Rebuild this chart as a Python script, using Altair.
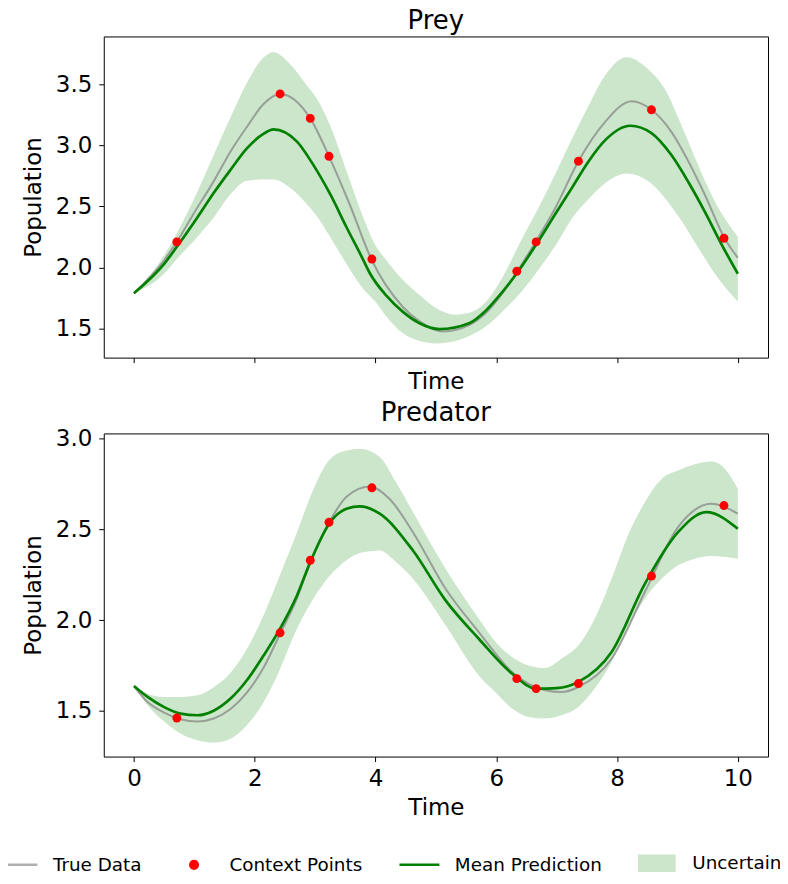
import altair as alt
import pandas as pd

FONT = "DejaVu Sans"

# ---------------- Prey ----------------
prey_true_t = [0, 0.5, 0.71, 1.0, 1.32, 1.6, 1.87, 2.15, 2.42, 2.92, 3.23, 3.57, 3.93, 4.45, 4.73, 5.11, 5.55, 5.83, 6.1, 6.35, 6.65, 6.98, 7.36, 7.80, 8.24, 8.57, 8.90, 9.18, 9.45, 9.78, 10.0]
prey_true_y = [1.79, 2.06, 2.21, 2.45, 2.705, 2.95, 3.15, 3.34, 3.42, 3.22, 2.91, 2.52, 2.07, 1.68, 1.56, 1.478, 1.53, 1.63, 1.79, 1.97, 2.21, 2.49, 2.87, 3.19, 3.36, 3.29, 3.11, 2.87, 2.60, 2.24, 2.08]

prey_mean_t = [0, 0.5, 0.71, 1.05, 1.32, 1.6, 1.87, 2.15, 2.31, 2.70, 2.97, 3.25, 3.52, 3.79, 3.9, 4.18, 4.45, 4.73, 5.06, 5.55, 5.83, 6.1, 6.35, 6.65, 6.98, 7.25, 7.53, 7.80, 8.22, 8.57, 8.90, 9.18, 9.45, 9.73, 10.0]
prey_mean_y = [1.79, 2.03, 2.17, 2.41, 2.61, 2.80, 2.975, 3.095, 3.13, 3.03, 2.84, 2.60, 2.33, 2.07, 1.96, 1.77, 1.64, 1.545, 1.497, 1.545, 1.65, 1.80, 1.96, 2.18, 2.44, 2.65, 2.87, 3.04, 3.16, 3.10, 2.92, 2.70, 2.46, 2.19, 1.95]

prey_band_t = [0, 0.5, 0.71, 1.05, 1.32, 1.6, 1.87, 2.15, 2.31, 2.59, 2.86, 3.03, 3.25, 3.52, 3.79, 4.0, 4.18, 4.45, 4.73, 5.0, 5.33, 5.55, 5.83, 6.1, 6.43, 6.71, 6.98, 7.25, 7.53, 7.80, 8.16, 8.52, 8.79, 9.07, 9.34, 9.62, 10.0]
prey_band_up = [1.79, 2.10, 2.28, 2.62, 2.92, 3.23, 3.51, 3.72, 3.76, 3.66, 3.49, 3.38, 3.16, 2.79, 2.42, 2.18, 2.06, 1.90, 1.775, 1.67, 1.615, 1.63, 1.72, 1.92, 2.24, 2.50, 2.77, 3.05, 3.325, 3.57, 3.72, 3.62, 3.46, 3.16, 2.84, 2.54, 2.25]
prey_band_lo = [1.79, 1.95, 2.07, 2.25, 2.41, 2.60, 2.71, 2.72, 2.72, 2.65, 2.52, 2.42, 2.25, 2.03, 1.83, 1.72, 1.60, 1.465, 1.40, 1.38, 1.40, 1.44, 1.52, 1.64, 1.81, 1.99, 2.18, 2.40, 2.56, 2.69, 2.77, 2.705, 2.57, 2.38, 2.165, 1.95, 1.72]

# ---------------- Predator ----------------
pred_true_t = [0, 0.225, 0.5, 0.77, 1.05, 1.32, 1.6, 1.87, 2.15, 2.42, 2.70, 2.92, 3.25, 3.52, 3.9, 4.23, 4.62, 5.16, 5.71, 6.26, 6.81, 7.08, 7.36, 7.91, 8.46, 9.01, 9.56, 10.0]
pred_true_y = [1.636, 1.548, 1.49, 1.453, 1.44, 1.457, 1.51, 1.60, 1.74, 1.925, 2.12, 2.32, 2.55, 2.68, 2.737, 2.67, 2.485, 2.173, 1.934, 1.714, 1.613, 1.603, 1.631, 1.787, 2.155, 2.513, 2.642, 2.587]

pred_mean_t = [0, 0.225, 0.5, 0.77, 1.05, 1.32, 1.6, 1.87, 2.15, 2.42, 2.70, 2.92, 3.25, 3.52, 3.74, 4.07, 4.62, 5.16, 5.71, 6.26, 6.66, 7.0, 7.36, 7.91, 8.46, 9.01, 9.48, 10.0]
pred_mean_y = [1.636, 1.576, 1.52, 1.484, 1.475, 1.50, 1.567, 1.668, 1.806, 1.953, 2.136, 2.32, 2.54, 2.614, 2.627, 2.587, 2.384, 2.109, 1.897, 1.705, 1.622, 1.625, 1.659, 1.824, 2.20, 2.485, 2.596, 2.504]

pred_band_t = [0, 0.225, 0.5, 0.77, 1.05, 1.32, 1.6, 1.87, 2.15, 2.42, 2.70, 2.97, 3.25, 3.52, 3.74, 4.07, 4.34, 4.62, 5.16, 5.71, 5.99, 6.26, 6.53, 6.81, 7.08, 7.36, 7.63, 7.91, 8.18, 8.46, 8.74, 9.01, 9.29, 9.56, 9.8, 10.0]
pred_band_up = [1.636, 1.594, 1.576, 1.576, 1.585, 1.63, 1.71, 1.84, 2.03, 2.25, 2.485, 2.72, 2.89, 2.936, 2.945, 2.90, 2.76, 2.596, 2.283, 2.008, 1.879, 1.796, 1.75, 1.736, 1.787, 1.861, 2.008, 2.228, 2.467, 2.65, 2.78, 2.825, 2.86, 2.875, 2.83, 2.724]
pred_band_lo = [1.636, 1.53, 1.44, 1.374, 1.337, 1.324, 1.346, 1.42, 1.548, 1.73, 1.953, 2.118, 2.247, 2.33, 2.37, 2.384, 2.32, 2.228, 1.971, 1.695, 1.60, 1.512, 1.466, 1.457, 1.475, 1.521, 1.622, 1.769, 1.953, 2.118, 2.228, 2.302, 2.339, 2.353, 2.348, 2.339]

# ---------------- Context points ----------------
ctx_t = [0.71, 2.42, 2.92, 3.23, 3.94, 6.34, 6.66, 7.36, 8.57, 9.77]
ctx_prey = [2.21, 3.42, 3.22, 2.91, 2.07, 1.97, 2.21, 2.87, 3.29, 2.24]
ctx_pred = [1.46, 1.93, 2.33, 2.54, 2.73, 1.677, 1.622, 1.65, 2.243, 2.632]

x_ticks = [0, 2, 4, 6, 8, 10]
prey_y_ticks = [1.5, 2.0, 2.5, 3.0, 3.5]
pred_y_ticks = [1.5, 2.0, 2.5, 3.0]

legend_labels = ["True Data", "Context Points", "Mean Prediction", "Uncertainty"]
legend_colors = ["#b0b0b0", "red", "green", "#cce6cc"]
CIRCLE = "M-0.19,0A0.19,0.19 0 1,0 0.19,0A0.19,0.19 0 1,0 -0.19,0Z"
RECT = "M-0.88,-0.38H0.88V0.38H-0.88Z"
legend_shapes = ["stroke", CIRCLE, "stroke", RECT]

TICK_FS = 23
TITLE_FS = 26
LEGEND_FS = 18.4


def panel(title, tt, ty, mt, my, bt, bu, bl, cy, ydom, yticks, show_xlabels, w, h, with_legend):
    xs = alt.Scale(domain=[-0.5, 10.5], nice=False, zero=False)
    ys = alt.Scale(domain=ydom, nice=False, zero=False)
    xaxis = alt.Axis(values=x_ticks, title="Time", labels=show_xlabels, format="d",
                     labelPadding=5.6, titlePadding=6.4 if show_xlabels else 7.6)
    yaxis = alt.Axis(values=yticks, title="Population", format=".1f",
                     labelPadding=7, titlePadding=9.5)

    band = alt.Chart(pd.DataFrame({"t": bt, "up": bu, "lo": bl})).mark_area(
        color="green", opacity=0.2, interpolate="monotone"
    ).encode(
        x=alt.X("t:Q", scale=xs, axis=xaxis),
        y=alt.Y("lo:Q", scale=ys, axis=yaxis),
        y2="up:Q",
    )
    true = alt.Chart(pd.DataFrame({"t": tt, "v": ty})).mark_line(
        color="gray", opacity=0.7, strokeWidth=2, interpolate="monotone"
    ).encode(x="t:Q", y="v:Q")
    mean = alt.Chart(pd.DataFrame({"t": mt, "v": my})).mark_line(
        color="green", strokeWidth=2.7, interpolate="monotone"
    ).encode(x="t:Q", y="v:Q")
    pts = alt.Chart(pd.DataFrame({"t": ctx_t, "v": cy})).mark_circle(
        color="red", size=80, opacity=1
    ).encode(x="t:Q", y="v:Q")

    layers = [band, true, mean, pts]
    if with_legend:
        leg = alt.Legend(
            title=None, orient="none", legendX=-108, legendY=409, direction="horizontal",
            columns=4, columnPadding=31, labelFontSize=LEGEND_FS, labelFont=FONT,
            labelColor="black", labelOffset=14, symbolStrokeWidth=2.5, symbolSize=1600,
            symbolOpacity=1, padding=0, labelLimit=400,
        )
        dummy = alt.Chart(pd.DataFrame({"label": legend_labels})).mark_point(
            filled=True, opacity=0, size=1600
        ).encode(
            color=alt.Color("label:N", scale=alt.Scale(domain=legend_labels, range=legend_colors), legend=leg),
            stroke=alt.Stroke("label:N", scale=alt.Scale(domain=legend_labels, range=legend_colors), legend=leg),
            shape=alt.Shape("label:N", scale=alt.Scale(domain=legend_labels, range=legend_shapes), legend=leg),
        )
        layers.append(dummy)

    return alt.layer(*layers).properties(
        width=w, height=h,
        title=alt.TitleParams(title, fontSize=TITLE_FS, fontWeight="normal", font=FONT, color="black", offset=2),
    )


top = panel("Prey", prey_true_t, prey_true_y, prey_mean_t, prey_mean_y,
            prey_band_t, prey_band_up, prey_band_lo, ctx_prey,
            [1.264, 3.89], prey_y_ticks, False, 666, 322, False)
bottom = panel("Predator", pred_true_t, pred_true_y, pred_mean_t, pred_mean_y,
               pred_band_t, pred_band_up, pred_band_lo, ctx_pred,
               [1.247, 3.03], pred_y_ticks, True, 666, 324, True)

chart = alt.vconcat(top, bottom, spacing=4).resolve_scale(
    color="independent", stroke="independent", shape="independent"
).properties(
    padding={"left": -13, "top": -1.6, "right": -21, "bottom": -4},
    background="white",
).configure_view(
    stroke="black", strokeWidth=1
).configure_axis(
    grid=False, domain=False, tickColor="black", tickSize=5, tickWidth=1,
    labelFont=FONT, labelFontSize=TICK_FS, labelColor="black",
    titleFont=FONT, titleFontSize=TICK_FS, titleFontWeight="normal", titleColor="black",
)

chart.save("out.html", embed_options={"renderer": "svg", "actions": False})
